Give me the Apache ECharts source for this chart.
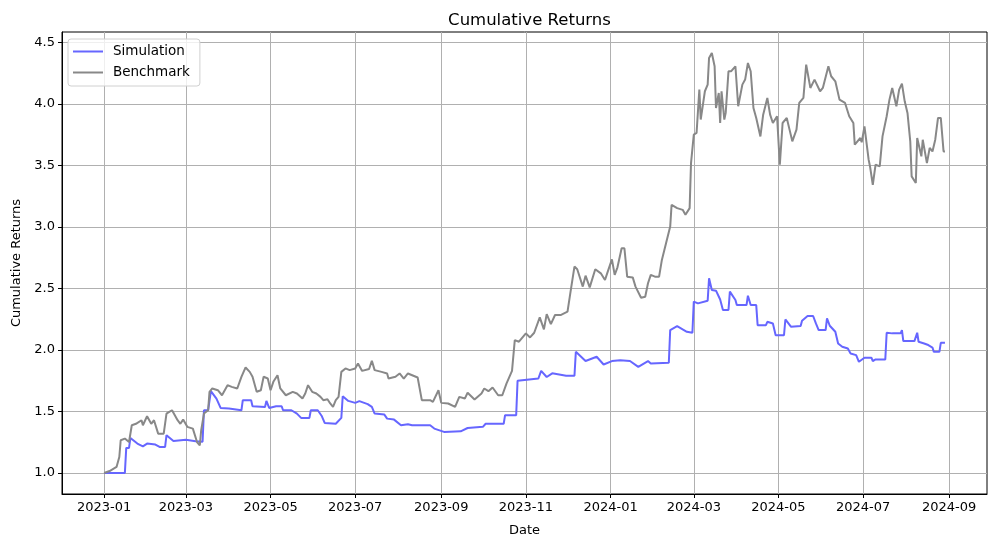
<!DOCTYPE html>
<html>
<head>
<meta charset="utf-8">
<script src="https://cdn.jsdelivr.net/npm/echarts@6/dist/echarts.min.js"></script>
<style>
html,body{margin:0;padding:0;background:#fff;}
#chart{width:1001px;height:547px;}
</style>
</head>
<body>
<div id="chart"></div>
<script>
// ---- data ----
const simDates = ['2023-01-01','2023-01-16','2023-01-17','2023-01-19','2023-01-20','2023-01-25','2023-01-29','2023-02-01','2023-02-07','2023-02-10','2023-02-14','2023-02-15','2023-02-20','2023-03-01','2023-03-08','2023-03-13','2023-03-14','2023-03-17','2023-03-19','2023-03-23','2023-03-26','2023-04-01','2023-04-10','2023-04-11','2023-04-17','2023-04-18','2023-04-27','2023-04-28','2023-04-30','2023-05-05','2023-05-09','2023-05-10','2023-05-16','2023-05-20','2023-05-23','2023-05-29','2023-05-30','2023-06-04','2023-06-07','2023-06-09','2023-06-17','2023-06-21','2023-06-22','2023-06-26','2023-07-01','2023-07-04','2023-07-10','2023-07-13','2023-07-15','2023-07-22','2023-07-24','2023-07-29','2023-08-03','2023-08-08','2023-08-11','2023-08-24','2023-08-27','2023-09-03','2023-09-15','2023-09-20','2023-10-01','2023-10-03','2023-10-16','2023-10-17','2023-10-25','2023-10-26','2023-11-10','2023-11-12','2023-11-16','2023-11-20','2023-11-30','2023-12-06','2023-12-07','2023-12-14','2023-12-22','2023-12-27','2024-01-02','2024-01-08','2024-01-15','2024-01-21','2024-01-28','2024-01-30','2024-02-12','2024-02-13','2024-02-18','2024-02-25','2024-02-29','2024-03-01','2024-03-04','2024-03-11','2024-03-12','2024-03-14','2024-03-17','2024-03-20','2024-03-22','2024-03-26','2024-03-27','2024-03-31','2024-04-01','2024-04-08','2024-04-09','2024-04-11','2024-04-15','2024-04-16','2024-04-22','2024-04-23','2024-04-27','2024-04-29','2024-05-05','2024-05-06','2024-05-10','2024-05-17','2024-05-18','2024-05-22','2024-05-26','2024-05-28','2024-05-30','2024-06-04','2024-06-05','2024-06-07','2024-06-11','2024-06-13','2024-06-16','2024-06-20','2024-06-22','2024-06-26','2024-06-28','2024-07-02','2024-07-07','2024-07-08','2024-07-10','2024-07-17','2024-07-18','2024-07-22','2024-07-28','2024-07-29','2024-07-30','2024-08-07','2024-08-09','2024-08-10','2024-08-14','2024-08-17','2024-08-20','2024-08-21','2024-08-25','2024-08-26','2024-08-29'];
const simValues = [1.0,1.0,1.204,1.204,1.285,1.239,1.217,1.239,1.231,1.212,1.212,1.307,1.26,1.27,1.258,1.255,1.51,1.51,1.665,1.605,1.529,1.524,1.51,1.592,1.592,1.543,1.537,1.586,1.529,1.543,1.543,1.51,1.51,1.483,1.448,1.448,1.51,1.51,1.461,1.407,1.40,1.448,1.624,1.586,1.57,1.584,1.56,1.537,1.483,1.475,1.442,1.434,1.388,1.396,1.388,1.388,1.361,1.334,1.339,1.366,1.375,1.40,1.40,1.47,1.47,1.749,1.768,1.83,1.78,1.81,1.79,1.79,1.985,1.91,1.945,1.882,1.91,1.917,1.91,1.863,1.91,1.89,1.896,2.162,2.194,2.148,2.14,2.393,2.379,2.40,2.583,2.488,2.482,2.41,2.325,2.325,2.474,2.406,2.365,2.365,2.441,2.365,2.365,2.202,2.202,2.229,2.215,2.12,2.12,2.248,2.189,2.194,2.238,2.276,2.276,2.216,2.162,2.162,2.257,2.197,2.148,2.053,2.026,2.012,1.972,1.958,1.904,1.937,1.937,1.91,1.923,1.923,2.14,2.135,2.135,2.162,2.072,2.072,2.14,2.067,2.053,2.04,2.02,1.985,1.985,2.058,2.058];

const benchDates = ['2023-01-01','2023-01-05','2023-01-10','2023-01-12','2023-01-13','2023-01-16','2023-01-17','2023-01-19','2023-01-21','2023-01-24','2023-01-28','2023-01-29','2023-02-01','2023-02-04','2023-02-06','2023-02-09','2023-02-13','2023-02-15','2023-02-17','2023-02-19','2023-02-23','2023-02-25','2023-02-27','2023-03-02','2023-03-06','2023-03-09','2023-03-11','2023-03-12','2023-03-14','2023-03-17','2023-03-18','2023-03-20','2023-03-24','2023-03-27','2023-03-31','2023-04-03','2023-04-07','2023-04-10','2023-04-13','2023-04-16','2023-04-18','2023-04-21','2023-04-24','2023-04-26','2023-04-29','2023-05-01','2023-05-03','2023-05-06','2023-05-08','2023-05-12','2023-05-17','2023-05-20','2023-05-24','2023-05-26','2023-05-28','2023-05-31','2023-06-03','2023-06-06','2023-06-08','2023-06-11','2023-06-13','2023-06-15','2023-06-17','2023-06-19','2023-06-21','2023-06-24','2023-06-27','2023-07-01','2023-07-03','2023-07-06','2023-07-11','2023-07-13','2023-07-15','2023-07-20','2023-07-24','2023-07-25','2023-07-30','2023-08-02','2023-08-05','2023-08-08','2023-08-15','2023-08-18','2023-08-24','2023-08-26','2023-08-30','2023-09-01','2023-09-06','2023-09-11','2023-09-14','2023-09-18','2023-09-20','2023-09-25','2023-09-30','2023-10-02','2023-10-05','2023-10-08','2023-10-12','2023-10-15','2023-10-18','2023-10-22','2023-10-24','2023-10-27','2023-11-01','2023-11-04','2023-11-07','2023-11-11','2023-11-14','2023-11-16','2023-11-19','2023-11-22','2023-11-26','2023-12-01','2023-12-03','2023-12-06','2023-12-08','2023-12-12','2023-12-14','2023-12-17','2023-12-21','2023-12-25','2023-12-28','2023-12-30','2024-01-02','2024-01-04','2024-01-06','2024-01-09','2024-01-11','2024-01-13','2024-01-17','2024-01-19','2024-01-23','2024-01-26','2024-01-28','2024-01-30','2024-02-02','2024-02-05','2024-02-07','2024-02-10','2024-02-13','2024-02-14','2024-02-18','2024-02-22','2024-02-24','2024-02-27','2024-02-28','2024-03-01','2024-03-03','2024-03-05','2024-03-06','2024-03-09','2024-03-11','2024-03-12','2024-03-14','2024-03-16','2024-03-17','2024-03-19','2024-03-20','2024-03-21','2024-03-23','2024-03-24','2024-03-26','2024-03-28','2024-03-31','2024-04-02','2024-04-05','2024-04-07','2024-04-09','2024-04-11','2024-04-13','2024-04-15','2024-04-18','2024-04-20','2024-04-23','2024-04-25','2024-04-27','2024-04-30','2024-05-02','2024-05-04','2024-05-07','2024-05-09','2024-05-11','2024-05-14','2024-05-16','2024-05-19','2024-05-21','2024-05-24','2024-05-27','2024-05-31','2024-06-02','2024-06-06','2024-06-08','2024-06-11','2024-06-14','2024-06-18','2024-06-21','2024-06-24','2024-06-25','2024-06-29','2024-06-30','2024-07-02','2024-07-05','2024-07-06','2024-07-08','2024-07-10','2024-07-13','2024-07-15','2024-07-18','2024-07-20','2024-07-22','2024-07-25','2024-07-27','2024-07-29','2024-07-31','2024-08-02','2024-08-04','2024-08-05','2024-08-08','2024-08-09','2024-08-12','2024-08-13','2024-08-16','2024-08-18','2024-08-20','2024-08-22','2024-08-24','2024-08-26','2024-08-28','2024-08-29'];
const benchValues = [1.0,1.016,1.049,1.13,1.266,1.28,1.293,1.252,1.388,1.40,1.429,1.388,1.461,1.40,1.429,1.32,1.32,1.483,1.497,1.51,1.429,1.40,1.434,1.375,1.361,1.252,1.225,1.347,1.483,1.51,1.66,1.687,1.673,1.632,1.714,1.70,1.687,1.782,1.858,1.822,1.782,1.66,1.673,1.782,1.768,1.673,1.741,1.795,1.687,1.632,1.66,1.646,1.605,1.646,1.714,1.66,1.646,1.619,1.592,1.60,1.565,1.537,1.592,1.619,1.822,1.85,1.836,1.85,1.89,1.83,1.845,1.912,1.836,1.822,1.809,1.768,1.782,1.809,1.768,1.809,1.776,1.592,1.592,1.578,1.673,1.57,1.565,1.537,1.619,1.605,1.652,1.597,1.646,1.687,1.665,1.695,1.632,1.632,1.727,1.83,2.08,2.067,2.135,2.102,2.14,2.265,2.167,2.292,2.21,2.284,2.284,2.311,2.46,2.678,2.656,2.515,2.604,2.509,2.656,2.623,2.569,2.637,2.737,2.61,2.672,2.827,2.827,2.596,2.59,2.515,2.425,2.433,2.542,2.61,2.596,2.596,2.732,2.868,3.003,3.18,3.153,3.139,3.099,3.153,3.519,3.75,3.764,4.116,3.873,4.103,4.157,4.374,4.414,4.306,3.967,4.089,3.845,4.103,3.873,3.927,4.266,4.266,4.306,3.981,4.157,4.198,4.333,4.266,3.967,3.886,3.736,3.913,4.049,3.913,3.845,3.90,3.506,3.845,3.886,3.791,3.696,3.791,4.008,4.049,4.32,4.13,4.198,4.103,4.13,4.306,4.225,4.184,4.035,4.008,3.90,3.845,3.669,3.723,3.688,3.818,3.547,3.492,3.343,3.506,3.492,3.736,3.90,4.035,4.13,3.981,4.116,4.165,4.021,3.927,3.696,3.411,3.357,3.723,3.574,3.709,3.519,3.642,3.614,3.709,3.886,3.886,3.614,3.614];

const xTickLabels = ['2023-01','2023-03','2023-05','2023-07','2023-09','2023-11','2024-01','2024-03','2024-05','2024-07','2024-09'];
const yTickValues = [1.0,1.5,2.0,2.5,3.0,3.5,4.0,4.5];

// ---- chart ----
const P = s => { const p = s.split('-').map(Number); return Date.UTC(p[0], p[1] - 1, p[2] || 1); };
const xTicks = xTickLabels.map(s => P(s));
const t0 = P(simDates[0]);
const t1 = P(simDates[simDates.length - 1]);
const xMargin = (t1 - t0) * 0.05;
const allVals = simValues.concat(benchValues);
const vMin = Math.min.apply(null, allVals), vMax = Math.max.apply(null, allVals);
const yMargin = (vMax - vMin) * 0.05;
const fmtMonth = v => { const d = new Date(v); return d.getUTCFullYear() + '-' + String(d.getUTCMonth() + 1).padStart(2, '0'); };

const FONT = 'DejaVu Sans';
const chart = echarts.init(document.getElementById('chart'), null, {renderer: 'canvas'});
chart.setOption({
  animation: false,
  backgroundColor: '#ffffff',
  textStyle: {fontFamily: FONT, color: '#000'},
  title: {
    text: 'Cumulative Returns',
    left: 524.5, top: 7, textAlign: 'center',
    textStyle: {fontFamily: FONT, fontSize: 16.5, fontWeight: 'normal', color: '#000'}
  },
  legend: {
    orient: 'vertical', left: 68, top: 39,
    padding: [5, 10, 6, 5], itemGap: 6,
    itemWidth: 30, itemHeight: 2, icon: 'rect',
    borderColor: '#d0d0d0', borderWidth: 1, borderRadius: 3,
    backgroundColor: 'rgba(255,255,255,0.8)',
    textStyle: {fontFamily: FONT, fontSize: 13.5, color: '#000', padding: [0, 0, 0, 5], lineHeight: 15},
    data: ['Simulation', 'Benchmark']
  },
  grid: {left: 62, right: 14, top: 32, bottom: 53, show: true, borderColor: '#000', borderWidth: 1, backgroundColor: 'transparent'},
  xAxis: {
    type: 'value',
    min: t0 - xMargin, max: t1 + xMargin,
    name: 'Date', nameLocation: 'middle', nameGap: 30,
    nameTextStyle: {fontFamily: FONT, fontSize: 13, color: '#000'},
    axisLine: {show: true, onZero: false, lineStyle: {color: '#000', width: 1}},
    axisTick: {show: true, inside: false, length: 4, lineStyle: {color: '#000'}, customValues: xTicks},
    axisLabel: {
      customValues: xTicks, margin: 7, fontFamily: FONT, fontSize: 13, color: '#000',
      formatter: v => fmtMonth(v), showMinLabel: true, showMaxLabel: true
    },
    splitLine: {show: true, lineStyle: {color: '#b0b0b0', width: 1}}
  },
  yAxis: {
    type: 'value',
    min: vMin - yMargin, max: vMax + yMargin,
    name: 'Cumulative Returns', nameLocation: 'middle', nameGap: 39,
    nameTextStyle: {fontFamily: FONT, fontSize: 13, color: '#000'},
    axisLine: {show: true, onZero: false, lineStyle: {color: '#000', width: 1}},
    axisTick: {show: true, inside: false, length: 4, lineStyle: {color: '#000'}, customValues: yTickValues},
    axisLabel: {
      customValues: yTickValues, margin: 7, fontFamily: FONT, fontSize: 13, color: '#000',
      formatter: v => Number(v).toFixed(1)
    },
    splitLine: {show: true, lineStyle: {color: '#b0b0b0', width: 1}}
  },
  series: [
    {
      name: 'Simulation', type: 'line', showSymbol: false, symbol: 'none',
      data: simDates.map((d, i) => [P(d), simValues[i]]),
      lineStyle: {color: '#6666ff', width: 2}, itemStyle: {color: '#6666ff'}
    },
    {
      name: 'Benchmark', type: 'line', showSymbol: false, symbol: 'none',
      data: benchDates.map((d, i) => [P(d), benchValues[i]]),
      lineStyle: {color: '#888888', width: 2}, itemStyle: {color: '#888888'}
    }
  ]
});
</script>
</body>
</html>
